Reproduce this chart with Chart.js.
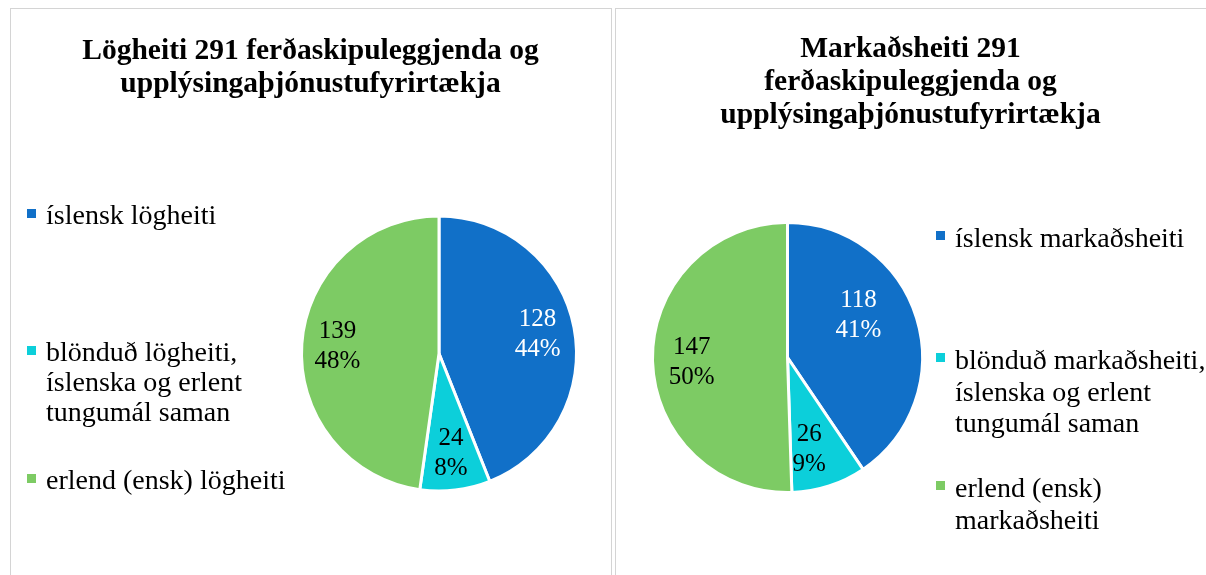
<!DOCTYPE html>
<html>
<head>
<meta charset="utf-8">
<script src="https://cdn.jsdelivr.net/npm/chart.js@4.4.1/dist/chart.umd.min.js"></script>
<style>
  html, body { margin: 0; padding: 0; background: #fff; }
  body { width: 1206px; height: 575px; position: relative; overflow: hidden;
         font-family: "Liberation Serif", "Times New Roman", serif; color: #000; }
  .panel { position: absolute; top: 8px; height: 600px; border: 1px solid #d4d4d4; border-bottom: none; }
  #panelLeft { left: 10px; width: 600px; }
  #panelRight { left: 615px; width: 620px; }
  canvas { position: absolute; left: 0; top: 0; }
  .title { position: absolute; text-align: center; font-weight: bold; font-size: 29.5px; line-height: 33px; white-space: nowrap; }
  #titleLeft { left: 10px; width: 601px; top: 33px; }
  #titleRight { left: 615px; width: 591px; top: 31px; }
  .legend-item { position: absolute; font-size: 28px; line-height: 30px; white-space: nowrap; }
  #legendRight .legend-item { line-height: 31.5px; }
  .legend-item .box { position: absolute; width: 9px; height: 9px; top: 9px; }
</style>
</head>
<body>
<div class="panel" id="panelLeft"></div>
<div class="panel" id="panelRight"></div>
<canvas id="chartLeft" width="1206" height="575"></canvas>
<canvas id="chartRight" width="1206" height="575"></canvas>
<div class="title" id="titleLeft"></div>
<div class="title" id="titleRight"></div>
<div id="legendLeft"></div>
<div id="legendRight"></div>
<script>
// Lögheiti (legal names)
const legalTitle = ["Lögheiti 291 ferðaskipuleggjenda og", "upplýsingaþjónustufyrirtækja"];
const legalLabels = [
  ["íslensk lögheiti"],
  ["blönduð lögheiti,", "íslenska og erlent", "tungumál saman"],
  ["erlend (ensk) lögheiti"]
];
const legalCounts = [128, 24, 139];
const legalPercents = [44, 8, 48];

// Markaðsheiti (trade names)
const brandTitle = ["Markaðsheiti 291", "ferðaskipuleggjenda og", "upplýsingaþjónustufyrirtækja"];
const brandLabels = [
  ["íslensk markaðsheiti"],
  ["blönduð markaðsheiti,", "íslenska og erlent", "tungumál saman"],
  ["erlend (ensk)", "markaðsheiti"]
];
const brandCounts = [118, 26, 147];
const brandPercents = [41, 9, 50];

const sliceColors = ['#1170C8', '#0CCFDA', '#7DCB64'];
const labelColors = ['#ffffff', '#000000', '#000000'];

/* value + percent inside each slice */
const sliceLabels = {
  id: 'sliceLabels',
  afterDatasetsDraw(chart, args, opts) {
    const ctx = chart.ctx;
    const meta = chart.getDatasetMeta(0);
    const values = chart.data.datasets[0].data;
    meta.data.forEach((arc, i) => {
      const p = arc.getProps(['x', 'y', 'startAngle', 'endAngle', 'outerRadius'], true);
      const [frac, nudge] = opts.place[i];
      const a = (p.startAngle + p.endAngle) / 2 + nudge * Math.PI / 180;
      const r = p.outerRadius * frac;
      const x = p.x + Math.cos(a) * r;
      const y = p.y + Math.sin(a) * r;
      ctx.save();
      ctx.font = '25px "Liberation Serif", "Times New Roman", serif';
      ctx.fillStyle = labelColors[i];
      ctx.textAlign = 'center';
      ctx.textBaseline = 'middle';
      ctx.fillText(String(values[i]), x, y - 15);
      ctx.fillText(opts.percents[i] + '%', x, y + 15);
      ctx.restore();
    });
  }
};

function createPie(canvasId, labels, counts, percents, radius, padding, place) {
  const ctx = document.getElementById(canvasId).getContext('2d');
  return new Chart(ctx, {
    type: 'pie',
    data: {
      labels: labels.map(l => l.join(' ')),
      datasets: [{
        data: counts,
        backgroundColor: sliceColors,
        borderColor: '#ffffff',
        borderWidth: 3,
        radius: radius
      }]
    },
    options: {
      responsive: false,
      animation: false,
      events: [],
      layout: { padding },
      plugins: {
        legend: { display: false },
        title: { display: false },
        tooltip: { enabled: false },
        sliceLabels: { place, percents }
      }
    },
    plugins: [sliceLabels]
  });
}

createPie('chartLeft', legalLabels, legalCounts, legalPercents, 137.5,
  { left: 289, right: 617, top: 203.5, bottom: 71.5 },
  [[0.73, 0], [0.73, 0], [0.74, 0]]);

createPie('chartRight', brandLabels, brandCounts, brandPercents, 135,
  { left: 637.5, right: 268.5, top: 207.5, bottom: 67.5 },
  [[0.61, -13.5], [0.70, 4.7], [0.71, -1.8]]);

/* titles */
document.getElementById('titleLeft').innerHTML = legalTitle.join('<br>');
document.getElementById('titleRight').innerHTML = brandTitle.join('<br>');

/* legends */
function buildLegend(containerId, labels, markerX, textX, lineTops) {
  const box = document.getElementById(containerId);
  labels.forEach((lines, i) => {
    const item = document.createElement('div');
    item.className = 'legend-item';
    item.style.left = textX + 'px';
    item.style.top = lineTops[i] + 'px';
    const mark = document.createElement('span');
    mark.className = 'box';
    mark.style.background = sliceColors[i];
    mark.style.left = (markerX - textX) + 'px';
    item.appendChild(mark);
    const txt = document.createElement('span');
    txt.innerHTML = lines.join('<br>');
    item.appendChild(txt);
    box.appendChild(item);
  });
}

buildLegend('legendLeft', legalLabels, 27, 46, [200, 337, 465]);
buildLegend('legendRight', brandLabels, 936, 955, [222, 344, 472]);
</script>
</body>
</html>
